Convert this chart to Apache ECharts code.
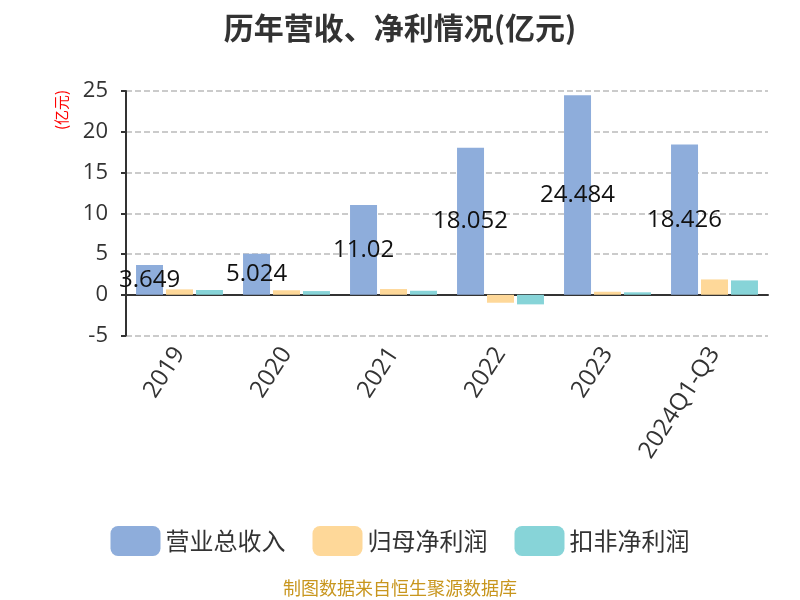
<!DOCTYPE html>
<html><head><meta charset="utf-8">
<script src="https://cdn.jsdelivr.net/npm/echarts@6/dist/echarts.min.js"></script>
<style>html,body{margin:0;padding:0;background:#fff}#c{width:800px;height:600px}</style>
</head><body><div id="c"></div>
<script>
const categories = ['2019','2020','2021','2022','2023','2024Q1-Q3'];
const revenue = [3.649, 5.024, 11.02, 18.052, 24.484, 18.426];
const netProfit = [0.66, 0.55, 0.7, -0.98, 0.37, 1.88];
const deductedProfit = [0.58, 0.45, 0.49, -1.18, 0.3, 1.76];
const yTicks = [-5, 25, 5];
const seriesNames = ['营业总收入','归母净利润','扣非净利润'];

const chart = echarts.init(document.getElementById('c'));
chart.setOption({
  animation: false,
  title: { text: '历年营收、净利情况(亿元)', left: 'center', top: 8,
    textStyle: { fontSize: 30, fontWeight: 'bold', color: '#333', fontFamily: 'Noto Sans CJK SC' } },
  graphic: [
    { type: 'text', x: 61, y: 110, rotation: Math.PI/2,
      style: { text: '(亿元)', fill: '#ff0000', fontSize: 15, align: 'center', verticalAlign: 'middle', fontFamily: 'Noto Sans CJK SC' } },
    { type: 'text', left: 'center', top: 579,
      style: { text: '制图数据来自恒生聚源数据库', fill: '#c8961e', fontSize: 18, fontFamily: 'Noto Sans CJK SC' } }
  ],
  legend: { top: 521, left: 'center', itemWidth: 50, itemHeight: 30, itemGap: 27,
    textStyle: { fontSize: 24, color: '#333', fontFamily: 'Noto Sans CJK SC' },
    data: seriesNames },
  grid: { left: 126, right: 32, top: 91, bottom: 264.5, containLabel: false },
  xAxis: { type: 'category', data: categories,
    axisLine: { lineStyle: { color: '#333', width: 2 } },
    axisTick: { length: 10, lineStyle: { color: '#333', width: 2 } },
    axisLabel: { rotate: 57, fontSize: 24, color: '#333', margin: 14, fontFamily: 'Open Sans' } },
  yAxis: { type: 'value', min: yTicks[0], max: yTicks[1], interval: yTicks[2],
    axisLine: { show: true, lineStyle: { color: '#333', width: 2 } },
    axisTick: { show: true, length: 5, lineStyle: { color: '#333', width: 2 } },
    axisLabel: { fontSize: 22, color: '#333', margin: 18, fontFamily: 'Open Sans' },
    splitLine: { lineStyle: { type: 'dashed', color: '#bbb', width: 1.5 } } },
  series: [
    { name: seriesNames[0], type: 'bar', data: revenue, barWidth: 27, barGap: '11%',
      itemStyle: { color: '#8eaddb' },
      label: { show: true, position: 'inside', fontSize: 24, color: '#111', fontFamily: 'Open Sans' } },
    { name: seriesNames[1], type: 'bar', data: netProfit, barWidth: 27, barGap: '11%',
      itemStyle: { color: '#fed899' } },
    { name: seriesNames[2], type: 'bar', data: deductedProfit, barWidth: 27, barGap: '11%',
      itemStyle: { color: '#87d4d8' } }
  ]
});
</script></body></html>
